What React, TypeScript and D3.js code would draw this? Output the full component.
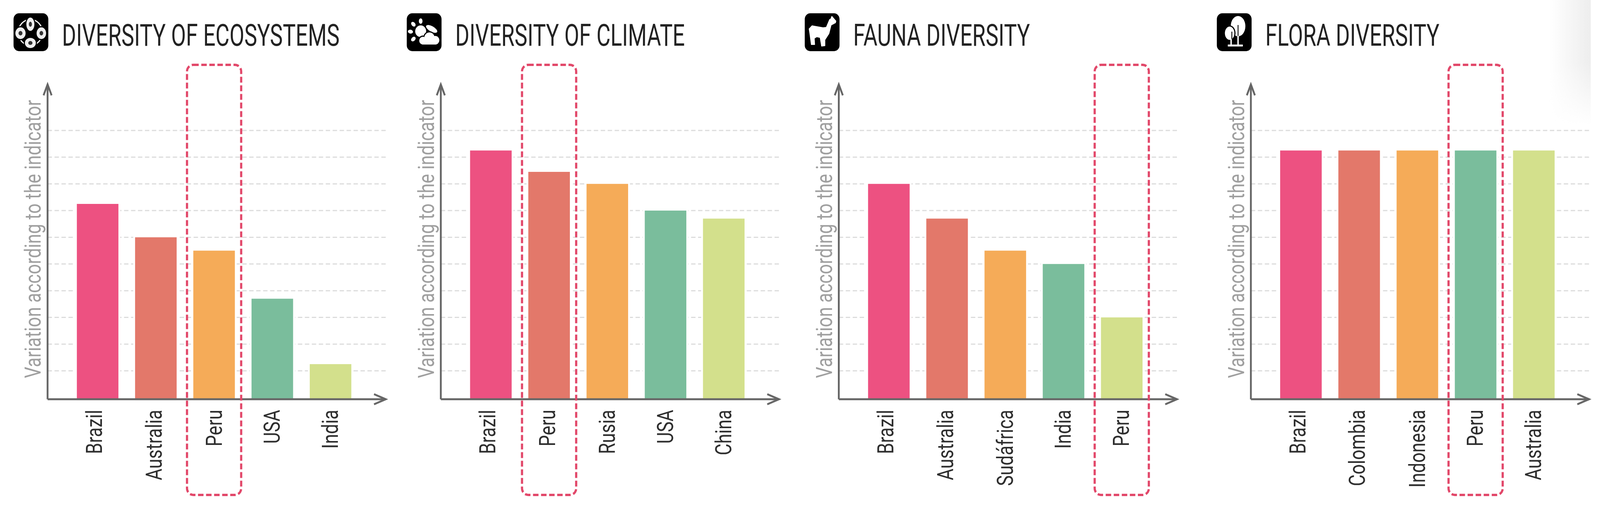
import { useEffect, useRef } from "react";
import * as d3 from "d3";

const width = 4372;
const height = 1303;

const titles = ["DIVERSITY OF ECOSYSTEMS", "DIVERSITY OF CLIMATE", "FAUNA DIVERSITY", "FLORA DIVERSITY"];

const ecosystemCountries = ["Brazil", "Australia", "Peru", "USA", "India"];
const ecosystemValues = [7.25, 6, 5.5, 3.7, 1.25];
const climateCountries = ["Brazil", "Peru", "Rusia", "USA", "China"];
const climateValues = [9.25, 8.45, 8, 7, 6.7];
const faunaCountries = ["Brazil", "Australia", "Sudáfrica", "India", "Peru"];
const faunaValues = [8, 6.7, 5.5, 5, 3];
const floraCountries = ["Brazil", "Colombia", "Indonesia", "Peru", "Australia"];
const floraValues = [9.25, 9.25, 9.25, 9.25, 9.25];

const gridTicks = [1, 2, 3, 4, 5, 6, 7, 8, 9, 10];
const barColors = ["#ed5181", "#e3786a", "#f5ab58", "#7abd9c", "#d3e08c"];
const yLabel = "Variation according to the indicator";

const countries = [ecosystemCountries, climateCountries, faunaCountries, floraCountries];
const values = [ecosystemValues, climateValues, faunaValues, floraValues];
const axisLefts = [130, 1204.5, 2292, 3418];
// the labels sit a bit left of their bars in the original, more so on the left
const labelNudge = [-10, -6, -1, -2, -2];

const FONT = "Roboto, 'Liberation Sans', sans-serif";
const AXIS = "#666666";

type G = d3.Selection<SVGGElement, unknown, null, undefined>;

// icons are drawn in a 95x97 box
const drawEcosystemIcon = (g: G) => {
  g.append("circle").attr("cx", 46).attr("cy", 49).attr("r", 33).attr("fill", "none").attr("stroke", "#fff").attr("stroke-width", 3);
  const blobs = [
    [46, 28, 11, 17],
    [19, 51, 14, 15],
    [76, 51, 13, 15],
    [46, 76, 15, 13],
  ];
  blobs.forEach(([cx, cy, rx, ry]) => {
    g.append("ellipse").attr("cx", cx).attr("cy", cy).attr("rx", rx + 3).attr("ry", ry + 3).attr("fill", "#000");
    g.append("ellipse").attr("cx", cx).attr("cy", cy).attr("rx", rx).attr("ry", ry).attr("fill", "#eee");
    g.append("ellipse").attr("cx", cx).attr("cy", cy).attr("rx", rx / 2.6).attr("ry", ry / 2.6).attr("fill", "#333");
  });
};

const drawClimateIcon = (g: G) => {
  const rays = [
    [38, 20, 0],
    [18, 28, -45],
    [10, 47, -80],
    [18, 66, 50],
  ];
  rays.forEach(([x, y, r]) => {
    g.append("ellipse").attr("rx", 5).attr("ry", 7).attr("fill", "#fff").attr("transform", `translate(${x},${y}) rotate(${r})`);
  });
  g.append("circle").attr("cx", 38).attr("cy", 46).attr("r", 15).attr("fill", "#fff");
  g.append("ellipse").attr("rx", 17).attr("ry", 8).attr("fill", "#000").attr("transform", "translate(68,40) rotate(28)").attr("stroke", "#000").attr("stroke-width", 5);
  g.append("ellipse").attr("rx", 17).attr("ry", 7).attr("fill", "#fff").attr("transform", "translate(68,40) rotate(28)");
  const cloud = [
    [44, 70, 10],
    [62, 63, 14],
    [78, 69, 11],
  ];
  cloud.forEach(([cx, cy, r]) => g.append("circle").attr("cx", cx).attr("cy", cy).attr("r", r + 3).attr("fill", "#000"));
  cloud.forEach(([cx, cy, r]) => g.append("circle").attr("cx", cx).attr("cy", cy).attr("r", r).attr("fill", "#fff"));
  g.append("rect").attr("x", 42).attr("y", 66).attr("width", 38).attr("height", 14).attr("fill", "#fff");
};

const drawFaunaIcon = (g: G) => {
  const llama: [number, number][] = [
    [85, 20], [74, 8], [71, 15], [68, 16], [59, 36], [50, 37], [20, 32], [12, 40], [14, 52],
    [18, 80], [27, 80], [26, 64], [33, 60], [42, 62], [46, 84], [55, 83], [55, 68], [66, 52],
    [72, 30], [84, 24],
  ];
  const line = d3.line().curve(d3.curveLinearClosed);
  g.append("path").attr("d", line(llama)).attr("fill", "#fff").attr("stroke", "#fff").attr("stroke-width", 2).attr("stroke-linejoin", "round");
};

const drawFloraIcon = (g: G) => {
  g.append("ellipse").attr("cx", 58).attr("cy", 33).attr("rx", 20).attr("ry", 26).attr("fill", "#fff");
  g.append("ellipse").attr("cx", 35).attr("cy", 51).attr("rx", 16).attr("ry", 20).attr("fill", "#000");
  g.append("ellipse").attr("cx", 35).attr("cy", 51).attr("rx", 13).attr("ry", 17).attr("fill", "#fff");
  g.append("line").attr("x1", 58).attr("x2", 58).attr("y1", 30).attr("y2", 60).attr("stroke", "#333").attr("stroke-width", 3);
  g.append("line").attr("x1", 41).attr("x2", 41).attr("y1", 47).attr("y2", 66).attr("stroke", "#333").attr("stroke-width", 3);
  g.append("line").attr("x1", 58).attr("x2", 58).attr("y1", 58).attr("y2", 82).attr("stroke", "#fff").attr("stroke-width", 4);
  g.append("line").attr("x1", 39).attr("x2", 39).attr("y1", 66).attr("y2", 82).attr("stroke", "#fff").attr("stroke-width", 4);
  g.append("rect").attr("x", 30).attr("y", 80).attr("width", 41).attr("height", 5).attr("fill", "#fff");
};

const iconDrawers = [drawEcosystemIcon, drawClimateIcon, drawFaunaIcon, drawFloraIcon];

const App = () => {
  const svgRef = useRef<SVGSVGElement>(null);

  useEffect(() => {
    if (!svgRef.current) return;
    const svg = d3.select(svgRef.current);
    svg.selectAll("*").remove();

    // faint scan shadow in the top right corner
    const defs = svg.append("defs");
    const shade = defs.append("linearGradient").attr("id", "shade");
    shade.append("stop").attr("offset", 0).attr("stop-color", "#ededed").attr("stop-opacity", 0);
    shade.append("stop").attr("offset", 1).attr("stop-color", "#ededed").attr("stop-opacity", 1);
    const fade = defs.append("linearGradient").attr("id", "fade").attr("x2", 0).attr("y2", 1);
    fade.append("stop").attr("offset", 0.5).attr("stop-color", "#fff");
    fade.append("stop").attr("offset", 1).attr("stop-color", "#000");
    defs.append("mask").attr("id", "fadeMask").attr("maskContentUnits", "objectBoundingBox")
      .append("rect").attr("width", 1).attr("height", 1).attr("fill", "url(#fade)");
    svg.append("rect").attr("x", 4233).attr("y", 0).attr("width", 114).attr("height", 320)
      .attr("fill", "url(#shade)").attr("mask", "url(#fadeMask)");

    const y = d3.scaleLinear().domain([0, 10]).range([1017.6, 334]);
    const baseline = 1022;

    titles.forEach((title, p) => {
      const left = axisLefts[p];
      const panel = svg.append("g").attr("transform", `translate(${left},0)`);

      const x = d3.scaleBand<string>().domain(countries[p]).range([80, 830]).paddingInner(0.286);

      // icon + title
      const icon = panel.append("g").attr("transform", "translate(-93,34)") as unknown as G;
      icon.append("rect").attr("width", 95).attr("height", 97).attr("rx", 15).attr("fill", "#000");
      iconDrawers[p](icon);
      panel.append("text")
        .attr("transform", "translate(39.5,117) scale(0.756,1)")
        .attr("font-family", FONT).attr("font-size", 78).attr("fill", "#222")
        .text(title);

      // dashed grid
      const grid = panel.append("g").call(
        d3.axisLeft(y).tickValues(gridTicks).tickSize(-924).tickFormat(() => "").offset(0)
      );
      grid.select(".domain").remove();
      grid.selectAll(".tick line").attr("stroke", "#dcdcdc").attr("stroke-width", 3).attr("stroke-dasharray", "12 7");

      // bars, white halo hides the grid next to them
      panel.append("g").selectAll("rect")
        .data(countries[p])
        .join("rect")
        .attr("x", (d) => x(d)!)
        .attr("y", (_, i) => y(values[p][i]))
        .attr("width", x.bandwidth())
        .attr("height", (_, i) => baseline - y(values[p][i]))
        .attr("fill", (_, i) => barColors[i])
        .attr("stroke", "#fff").attr("stroke-width", 10).attr("paint-order", "stroke");

      // category axis
      const xAxis = panel.append("g").attr("transform", `translate(0,${baseline})`)
        .call(d3.axisBottom(x).tickSize(0).offset(0));
      xAxis.select(".domain").remove();
      xAxis.selectAll<SVGTextElement, string>(".tick text")
        .attr("font-family", FONT).attr("font-size", 62).attr("fill", "#2e2e2e")
        .attr("text-anchor", "end").attr("x", 0).attr("y", 0).attr("dy", 0)
        .attr("transform", (_, i) => `translate(${22 + labelNudge[i]},27) rotate(-90) scale(0.74,1)`);

      // axes with open arrowheads
      const axisLine = d3.line();
      const strokeAxis = (pts: [number, number][]) =>
        panel.append("path").attr("d", axisLine(pts)).attr("fill", "none").attr("stroke", AXIS)
          .attr("stroke-width", 5).attr("stroke-linejoin", "miter");
      strokeAxis([[0, baseline], [0, 216]]);
      strokeAxis([[-11, 244], [0, 216], [11, 244]]);
      strokeAxis([[0, baseline], [924, baseline]]);
      strokeAxis([[892, baseline - 13], [924, baseline], [892, baseline + 13]]);

      // y title
      panel.append("text")
        .attr("transform", "translate(-18.5,968) rotate(-90) scale(0.75,1)")
        .attr("font-family", FONT).attr("font-size", 61).attr("fill", "#9f9f9f")
        .text(yLabel);

      // dashed box around Peru
      const peruX = x("Peru")! + x.bandwidth() / 2;
      panel.append("rect")
        .attr("x", peruX - 74).attr("y", 166).attr("width", 148).attr("height", 1101).attr("rx", 17)
        .attr("fill", "none").attr("stroke", "#e2486a").attr("stroke-width", 6).attr("stroke-dasharray", "15 7");
    });
  }, []);

  // fill the window whatever its real size is, the first run came back clipped on the right
  return (
    <svg
      ref={svgRef}
      viewBox={`0 0 ${width} ${height}`}
      preserveAspectRatio="none"
      style={{ position: "fixed", left: 0, top: 0, width: "100vw", height: "100vh", display: "block", background: "#fff" }}
    />
  );
};

export default App;
